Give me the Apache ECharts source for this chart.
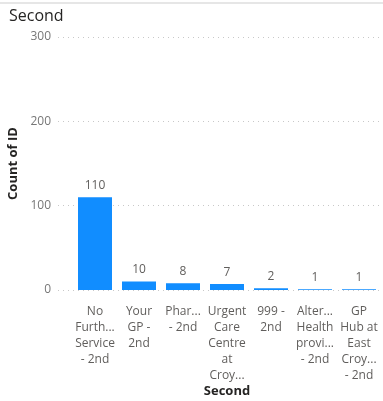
<!DOCTYPE html>
<html><head><meta charset="utf-8">
<script src="https://cdn.jsdelivr.net/npm/echarts@6/dist/echarts.min.js"></script>
<style>html,body{margin:0;padding:0;background:#fff}#c{width:383px;height:401px}</style>
</head><body><div id="c"></div>
<script>
const categories = ["No\nFurth...\nService\n- 2nd", "Your\nGP -\n2nd", "Phar...\n- 2nd", "Urgent\nCare\nCentre\nat\nCroy...", "999 -\n2nd", "Alter...\nHealth\nprovi...\n- 2nd", "GP\nHub at\nEast\nCroy...\n- 2nd"];
const counts = [110, 10, 8, 7, 2, 1, 1];
const yTicks = [0, 100, 200, 300];

const chart = echarts.init(document.getElementById('c'), null, {renderer: 'canvas'});
const font = 'Open Sans';
chart.setOption({
  animation: false,
  title: {text: 'Second', left: 4, top: 3, textStyle: {fontFamily: font, fontSize: 16, fontWeight: 'normal', color: '#252423'}},
  graphic: [{type: 'line', shape: {x1: 0, y1: 3, x2: 383, y2: 3}, style: {stroke: '#e6e6e6', lineWidth: 2}}],
  grid: [
    {left: 73, right: 2, top: 37, bottom: 111, outerBoundsMode: 'none'},
    {left: 58, right: 0, top: 37, bottom: 111, outerBoundsMode: 'none'}
  ],
  xAxis: [{
    type: 'category', data: categories, gridIndex: 0,
    axisLine: {show: false}, axisTick: {show: false},
    axisLabel: {interval: 0, color: '#605e5c', fontFamily: font, fontSize: 12, lineHeight: 16, margin: 14, verticalAlign: 'top'},
    name: 'Second', nameLocation: 'middle', nameGap: 101, nameMoveOverlap: false,
    nameTextStyle: {color: '#252423', fontFamily: font, fontSize: 13, fontWeight: 'bold', verticalAlign: 'middle'}
  }, {
    type: 'value', gridIndex: 1, show: false
  }],
  yAxis: [{
    type: 'value', gridIndex: 0, min: yTicks[0], max: yTicks[yTicks.length - 1], interval: 100,
    axisLabel: {color: '#777', fontFamily: font, fontSize: 12, margin: 22},
    splitLine: {show: false},
    name: 'Count of ID', nameLocation: 'middle', nameGap: 46,
    nameTextStyle: {color: '#252423', fontFamily: font, fontSize: 13, fontWeight: 'bold'}
  }, {
    type: 'value', gridIndex: 1, min: yTicks[0], max: yTicks[yTicks.length - 1], interval: 100,
    axisLabel: {show: false}, axisLine: {show: false}, axisTick: {show: false},
    splitLine: {lineStyle: {type: [1, 4], color: '#c8c8c8'}}
  }],
  series: [{
    type: 'bar', data: counts, barWidth: 34, xAxisIndex: 0, yAxisIndex: 0,
    itemStyle: {color: '#118DFF'},
    label: {show: true, position: 'top', color: '#605e5c', fontFamily: font, fontSize: 12, distance: 6}
  }]
});
</script></body></html>
